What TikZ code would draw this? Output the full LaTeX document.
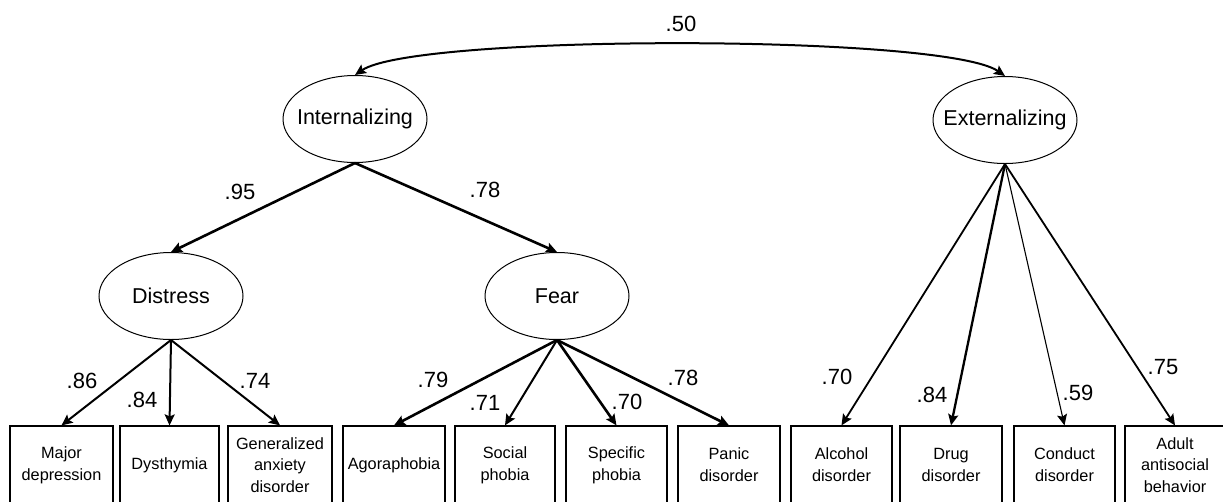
\documentclass[tikz,border=0pt]{standalone}
\usepackage{fontspec}
\setmainfont{Liberation Sans}
\usetikzlibrary{arrows.meta,shapes.geometric}
\newcommand{\lbox}[1]{\makebox[0pt]{#1}}
\tikzset{
  latent/.style={ellipse, draw, line width=1pt, minimum width=144pt, minimum height=87pt, inner sep=0pt, font=\fontsize{21.5}{25}\selectfont},
  obs/.style={rectangle, draw, line width=1.2pt, minimum height=78pt, inner sep=0pt, align=center, font=\fontsize{16.3}{21.8}\selectfont},
  coef/.style={font=\fontsize{22}{26}\selectfont, inner sep=0pt},
  path/.style={-{Stealth[length=11pt,width=10pt,inset=2pt]}},
}
\begin{document}
\begin{tikzpicture}[x=1pt,y=-1pt]
\useasboundingbox (0,0) rectangle (1223,501);
\clip (0,0) rectangle (1223,501);
% latent factors
\node[latent] (int) at (355,119) {\lbox{Internalizing}};
\node[latent] (ext) at (1005,120) {\lbox{Externalizing}};
\node[latent] (dis) at (171,296) {\lbox{Distress}};
\node[latent] (fear) at (557,296) {\lbox{Fear}};
% observed
\node[obs, minimum width=103pt] (md) at (61.5,465) {Major\\depression};
\node[obs, minimum width=99pt] (dy) at (169.5,465) {Dysthymia};
\node[obs, minimum width=104pt] (gad) at (280,465) {Generalized\\anxiety\\disorder};
\node[obs, minimum width=102pt] (ago) at (394,465) {Agoraphobia};
\node[obs, minimum width=100pt] (soc) at (505,465) {Social\\phobia};
\node[obs, minimum width=101pt] (spe) at (616.5,465) {Specific\\phobia};
\node[obs, minimum width=102pt] (pan) at (729,465) {Panic\\disorder};
\node[obs, minimum width=101pt] (alc) at (841.5,465) {Alcohol\\disorder};
\node[obs, minimum width=102pt] (drug) at (951,465) {Drug\\disorder};
\node[obs, minimum width=101pt] (con) at (1064.5,465) {Conduct\\disorder};
\node[obs, minimum width=100pt] (asb) at (1175,465) {Adult\\antisocial\\behavior};
% correlation
\draw[{Stealth[length=11pt,width=10pt,inset=2pt]}-{Stealth[length=11pt,width=10pt,inset=2pt]}, line width=2pt]
  (int.north) .. controls (415,34) and (945,34) .. (ext.north);
\node[coef] (r) at (681,24) {.50};
% internalizing
\draw[path, line width=2.6pt] (int.south) -- (dis.north);
\draw[path, line width=2.6pt] (int.south) -- (fear.north);
\node[coef] (l95) at (240,192) {.95};
\node[coef] (l78a) at (485,190) {.78};
% distress
\draw[path, line width=2pt] (dis.south) -- (md.north);
\draw[path, line width=2pt] (dis.south) -- (dy.north);
\draw[path, line width=2pt] (dis.south) -- (gad.north);
\node[coef] (l86) at (82,381) {.86};
\node[coef] (l84a) at (142,400) {.84};
\node[coef] (l74) at (255,381) {.74};
% fear
\draw[path, line width=2.6pt] (fear.south) -- (ago.north);
\draw[path, line width=2pt] (fear.south) -- (soc.north);
\draw[path, line width=2.6pt] (fear.south) -- (spe.north);
\draw[path, line width=2.6pt] (fear.south) -- (pan.north);
\node[coef] (l79) at (433,380) {.79};
\node[coef] (l71) at (485,403) {.71};
\node[coef] (l70a) at (627,402) {.70};
\node[coef] (l78b) at (683,378) {.78};
% externalizing
\draw[path, line width=1.8pt] (ext.south) -- (alc.north);
\draw[path, line width=2.3pt] (ext.south) -- (drug.north);
\draw[path, line width=1.1pt] (ext.south) -- (con.north);
\draw[path, line width=1.8pt] (ext.south) -- (asb.north);
\node[coef] (l70b) at (837,377) {.70};
\node[coef] (l84b) at (932,395) {.84};
\node[coef] (l59) at (1078,393) {.59};
\node[coef] (l75) at (1163,367) {.75};
\end{tikzpicture}
\end{document}
